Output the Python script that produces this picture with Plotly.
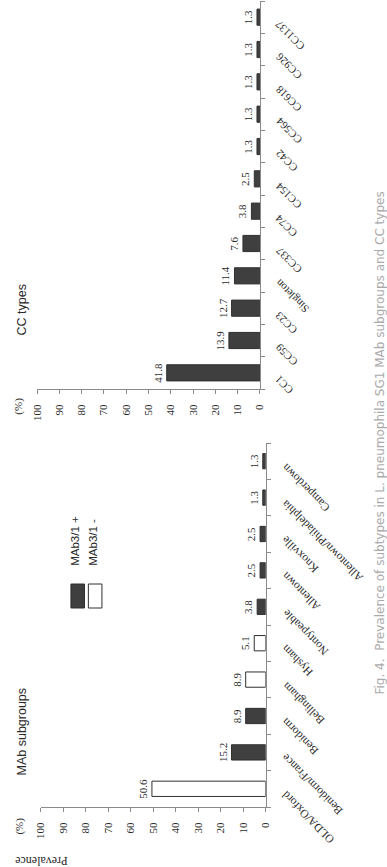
import plotly.graph_objects as go

# ---------------- data ----------------
cc_categories = ["CC1", "CC59", "CC23", "Singleton", "CC337", "CC74", "CC154",
                 "CC42", "CC564", "CC618", "CC926", "CC1137"]
cc_values = [41.8, 13.9, 12.7, 11.4, 7.6, 3.8, 2.5, 1.3, 1.3, 1.3, 1.3, 1.3]

mab_categories = ["OLDA/Oxford", "Benidorm/France", "Benidorm", "Bellingham", "Hysham",
                  "Nontypeable", "Allentown", "Knoxville", "Allentown/Philadelphia", "Camperdown"]
mab_values = [50.6, 15.2, 8.9, 8.9, 5.1, 3.8, 2.5, 2.5, 1.3, 1.3]
mab_status = ["-", "+", "+", "-", "-", "+", "+", "+", "+", "+"]

value_ticks = [0, 10, 20, 30, 40, 50, 60, 70, 80, 90, 100]
legend_labels = {"+": "MAb3/1 +", "-": "MAb3/1 -"}

# ---------------- style ----------------
W, H = 387, 867
def px(x):
    return x / W
def py(y):
    return 1 - y / H

DARK = "#3f3f3f"
EDGE = "#303030"
AXIS = "#8a8a8a"
TXT = "#2a2a2a"
SERIF = "Liberation Serif"
SANS = "Liberation Sans"
status_color = {"+": DARK, "-": "#ffffff"}

fig = go.Figure()

fig.add_trace(go.Bar(
    x=cc_values, y=list(range(len(cc_categories))), orientation="h",
    xaxis="x", yaxis="y", width=0.5,
    marker=dict(color=DARK, line=dict(color=EDGE, width=1)),
    text=[f"{v:.1f}" for v in cc_values], textposition="outside",
    textangle=-90, constraintext="none", cliponaxis=False,
    textfont=dict(family=SERIF, size=11, color=TXT),
    showlegend=False, hoverinfo="skip"))

fig.add_trace(go.Bar(
    x=mab_values, y=list(range(len(mab_categories))), orientation="h",
    xaxis="x2", yaxis="y2", width=0.42,
    marker=dict(color=[status_color[s] for s in mab_status], line=dict(color=EDGE, width=1)),
    text=[f"{v:.1f}" for v in mab_values], textposition="outside",
    textangle=-90, constraintext="none", cliponaxis=False,
    textfont=dict(family=SERIF, size=11, color=TXT),
    showlegend=False, hoverinfo="skip"))

def xaxis_cfg(domain, anchor):
    return dict(domain=domain, anchor=anchor, range=[100, 0], side="bottom",
                tickvals=value_ticks, ticks="outside", ticklen=4, tickcolor=AXIS,
                showline=True, linecolor=AXIS, linewidth=1, showgrid=False,
                zeroline=False, tickangle=-90, ticklabelstandoff=6,
                tickfont=dict(family=SERIF, size=11, color=TXT), fixedrange=True)

def yaxis_cfg(domain, anchor, n):
    return dict(domain=domain, anchor=anchor, range=[-0.5, n - 0.5], side="right",
                tickvals=[k - 0.5 for k in range(n + 1)], ticks="outside", ticklen=4,
                tickcolor=AXIS, showticklabels=False, showline=True, linecolor=AXIS,
                linewidth=1, showgrid=False, zeroline=False, fixedrange=True)

fig.update_layout(
    width=W, height=H, margin=dict(l=0, r=0, t=0, b=0),
    paper_bgcolor="white", plot_bgcolor="white",
    xaxis=xaxis_cfg([px(32), px(262)], "y"),
    yaxis=yaxis_cfg([py(389), py(1)], "x", len(cc_categories)),
    xaxis2=xaxis_cfg([px(36), px(268)], "y2"),
    yaxis2=yaxis_cfg([py(807), py(443)], "x2", len(mab_categories)),
)

ann = []
# category labels (slanted)
for i, c in enumerate(cc_categories):
    ann.append(dict(x=0, y=i, xref="x", yref="y", text=c, showarrow=False,
                    textangle=-135, xanchor="left", yanchor="top", xshift=10, yshift=2,
                    font=dict(family=SERIF, size=11, color=TXT)))
for i, c in enumerate(mab_categories):
    ann.append(dict(x=0, y=i, xref="x2", yref="y2", text=c, showarrow=False,
                    textangle=-135, xanchor="left", yanchor="top", xshift=11, yshift=3,
                    font=dict(family=SERIF, size=11.5, color=TXT)))

def label(x, y, text, angle, family, size, color=TXT, xa="center", ya="middle"):
    ann.append(dict(x=px(x), y=py(y), xref="paper", yref="paper", text=text,
                    showarrow=False, textangle=angle, xanchor=xa, yanchor=ya,
                    font=dict(family=family, size=size, color=color)))

# (%) units
label(12, 406, "(%)", -90, SERIF, 11)
label(13, 826, "(%)", -90, SERIF, 11)
# panel titles
label(17, 310, "CC types", -90, SANS, 12.5)
label(17, 731, "MAb subgroups", -90, SANS, 12.5)
# axis title
label(36, 861, "Prevalence", 180, SERIF, 12)

# legend
shapes = []
for s, xc in [("+", 74), ("-", 92)]:
    shapes.append(dict(type="rect", xref="paper", yref="paper",
                       x0=px(xc - 7), x1=px(xc + 7), y0=py(608), y1=py(584),
                       fillcolor=status_color[s], line=dict(color=EDGE, width=1)))
    label(xc - 3, 568, legend_labels[s], -90, SANS, 11.5, ya="bottom")

# caption
label(385, 697, "Fig. 4.  Prevalence of subtypes in L. pneumophila SG1 MAb subgroups and CC types",
      -90, "DejaVu Sans", 12, color="#aaaaaa", ya="bottom")

fig.update_layout(annotations=ann, shapes=shapes)
fig.write_html("out.html")
